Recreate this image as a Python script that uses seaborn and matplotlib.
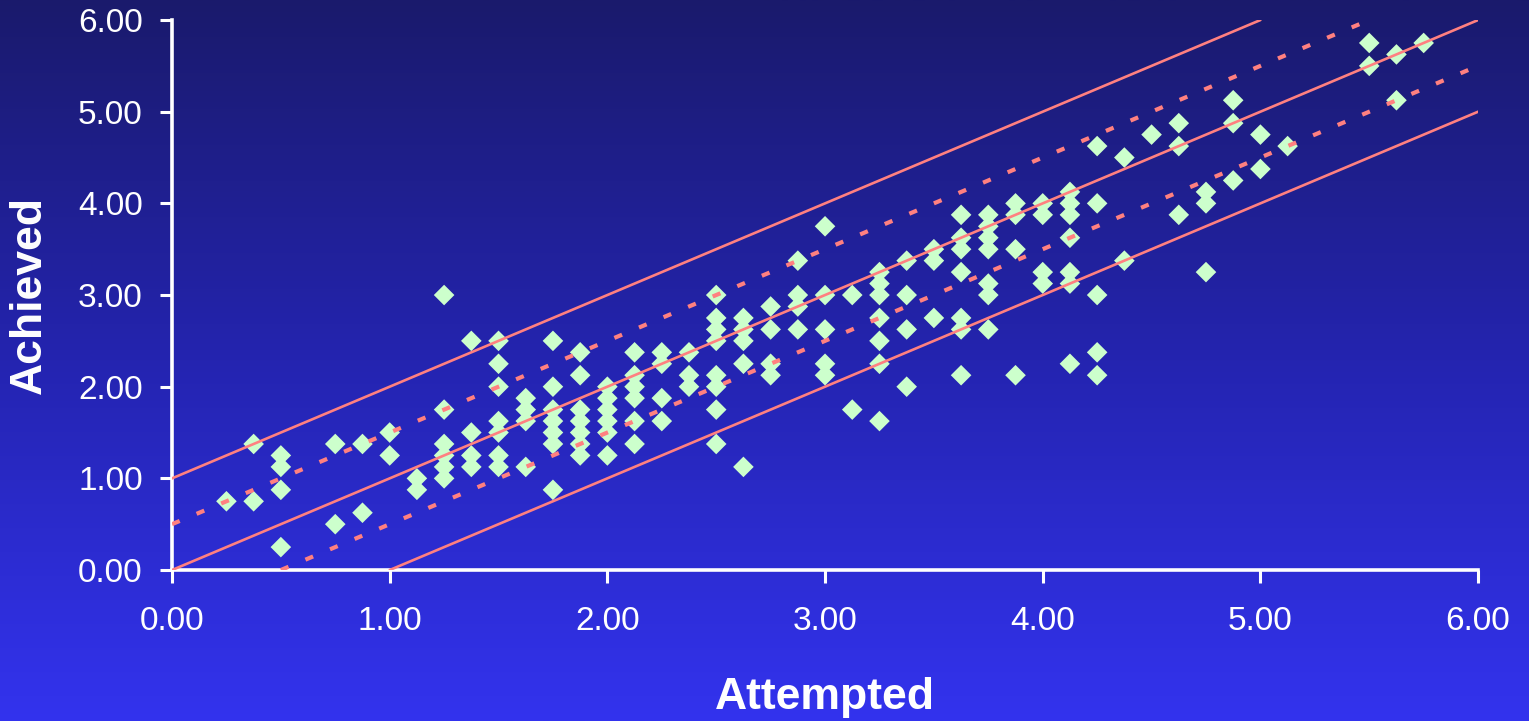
import numpy as np
import seaborn as sns
import matplotlib
matplotlib.use("Agg")
import matplotlib.pyplot as plt
from matplotlib.colors import LinearSegmentedColormap

# attempted / achieved pairs (grid of eighths)
attempted = [
    0.25,
    0.375, 0.375,
    0.5, 0.5, 0.5, 0.5,
    0.75, 0.75,
    0.875, 0.875,
    1.0, 1.0,
    1.125, 1.125,
    1.25, 1.25, 1.25, 1.25, 1.25, 1.25,
    1.375, 1.375, 1.375, 1.375,
    1.5, 1.5, 1.5, 1.5, 1.5, 1.5, 1.5,
    1.625, 1.625, 1.625, 1.625,
    1.75, 1.75, 1.75, 1.75, 1.75, 1.75, 1.75,
    1.875, 1.875, 1.875, 1.875, 1.875, 1.875, 1.875,
    2.0, 2.0, 2.0, 2.0, 2.0, 2.0,
    2.125, 2.125, 2.125, 2.125, 2.125, 2.125,
    2.25, 2.25, 2.25, 2.25,
    2.375, 2.375, 2.375,
    2.5, 2.5, 2.5, 2.5, 2.5, 2.5, 2.5, 2.5,
    2.625, 2.625, 2.625, 2.625, 2.625,
    2.75, 2.75, 2.75, 2.75,
    2.875, 2.875, 2.875, 2.875,
    3.0, 3.0, 3.0, 3.0, 3.0,
    3.125, 3.125,
    3.25, 3.25, 3.25, 3.25, 3.25, 3.25, 3.25,
    3.375, 3.375, 3.375, 3.375,
    3.5, 3.5, 3.5,
    3.625, 3.625, 3.625, 3.625, 3.625, 3.625, 3.625,
    3.75, 3.75, 3.75, 3.75, 3.75, 3.75, 3.75,
    3.875, 3.875, 3.875, 3.875,
    4.0, 4.0, 4.0, 4.0,
    4.125, 4.125, 4.125, 4.125, 4.125, 4.125, 4.125,
    4.25, 4.25, 4.25, 4.25, 4.25,
    4.375, 4.375,
    4.5,
    4.625, 4.625, 4.625,
    4.75, 4.75, 4.75,
    4.875, 4.875, 4.875,
    5.0, 5.0,
    5.125,
    5.5, 5.5,
    5.625, 5.625,
    5.75,
]
achieved = [
    0.75,
    1.375, 0.75,
    1.25, 1.125, 0.875, 0.25,
    1.375, 0.5,
    1.375, 0.625,
    1.5, 1.25,
    1.0, 0.875,
    3.0, 1.75, 1.375, 1.25, 1.125, 1.0,
    2.5, 1.5, 1.25, 1.125,
    2.5, 2.25, 2.0, 1.625, 1.5, 1.25, 1.125,
    1.875, 1.75, 1.625, 1.125,
    2.5, 2.0, 1.75, 1.625, 1.5, 1.375, 0.875,
    2.375, 2.125, 1.75, 1.625, 1.5, 1.375, 1.25,
    2.0, 1.875, 1.75, 1.625, 1.5, 1.25,
    2.375, 2.125, 2.0, 1.875, 1.625, 1.375,
    2.375, 2.25, 1.875, 1.625,
    2.375, 2.125, 2.0,
    3.0, 2.75, 2.625, 2.5, 2.125, 2.0, 1.75, 1.375,
    2.75, 2.625, 2.5, 2.25, 1.125,
    2.875, 2.625, 2.25, 2.125,
    3.375, 3.0, 2.875, 2.625,
    3.75, 3.0, 2.625, 2.25, 2.125,
    3.0, 1.75,
    3.25, 3.125, 3.0, 2.75, 2.5, 2.25, 1.625,
    3.375, 3.0, 2.625, 2.0,
    3.5, 3.375, 2.75,
    3.875, 3.625, 3.5, 3.25, 2.75, 2.625, 2.125,
    3.875, 3.75, 3.625, 3.5, 3.125, 3.0, 2.625,
    4.0, 3.875, 3.5, 2.125,
    4.0, 3.875, 3.25, 3.125,
    4.125, 4.0, 3.875, 3.625, 3.25, 3.125, 2.25,
    4.625, 4.0, 3.0, 2.375, 2.125,
    4.5, 3.375,
    4.75,
    4.875, 4.625, 3.875,
    4.125, 4.0, 3.25,
    5.125, 4.875, 4.25,
    4.75, 4.375,
    4.625,
    5.75, 5.5,
    5.625, 5.125,
    5.75,
]

# reference lines: achieved = attempted + offset
solid_offsets = [-1.0, 0.0, 1.0]
dotted_offsets = [-0.5, 0.5]

ticks = [0, 1, 2, 3, 4, 5, 6]
tick_labels = ["0.00", "1.00", "2.00", "3.00", "4.00", "5.00", "6.00"]

sns.set_style("white")
plt.rcParams["font.family"] = ["Liberation Sans", "DejaVu Sans"]

fig = plt.figure(figsize=(15.29, 7.21), dpi=100)

# background gradient (dark navy at top -> bright blue at bottom)
bg = fig.add_axes([0, 0, 1, 1], zorder=-10)
cmap = LinearSegmentedColormap.from_list(
    "bg", ["#1a1a6c", "#2424b0", "#3333ee"])
bg.imshow(np.linspace(0, 1, 256).reshape(-1, 1), aspect="auto",
          cmap=cmap, extent=[0, 1, 0, 1])
bg.set_axis_off()

ax = fig.add_axes([0.1125, 0.2094, 0.8542, 0.7628])
ax.set_facecolor("none")

sns.scatterplot(x=attempted, y=achieved, marker="D", s=110,
                color="#ccffcc", edgecolor="none", ax=ax, zorder=3)

for c in solid_offsets:
    ax.axline((0, c), slope=1, color="#ff8080", lw=1.9, zorder=4)
for c in dotted_offsets:
    ax.axline((0, c), slope=1, color="#ff8080", lw=3.0,
              dashes=(2.0, 4.4), zorder=4)

ax.set_xlim(0, 6)
ax.set_ylim(0, 6)
ax.set_xticks(ticks)
ax.set_xticklabels(tick_labels)
ax.set_yticks(ticks)
ax.set_yticklabels(tick_labels)

for side in ["top", "right"]:
    ax.spines[side].set_visible(False)
for side in ["left", "bottom"]:
    ax.spines[side].set_color("white")
    ax.spines[side].set_linewidth(2.6)

ax.tick_params(axis="both", colors="white", width=2.2,
               length=9, direction="out", bottom=True, left=True)
ax.tick_params(axis="x", pad=17, labelsize=24)
ax.tick_params(axis="y", pad=12, labelsize=24)

ax.set_xlabel("Attempted", color="white", fontsize=32, fontweight="bold")
ax.set_ylabel("Achieved", color="white", fontsize=32, fontweight="bold")
ax.xaxis.set_label_coords(0.5, -0.231)
ax.xaxis.label.set_va("center")
ax.yaxis.set_label_coords(-0.1095, 0.5)
ax.yaxis.label.set_va("center")

fig.savefig("out.png", dpi=100)
